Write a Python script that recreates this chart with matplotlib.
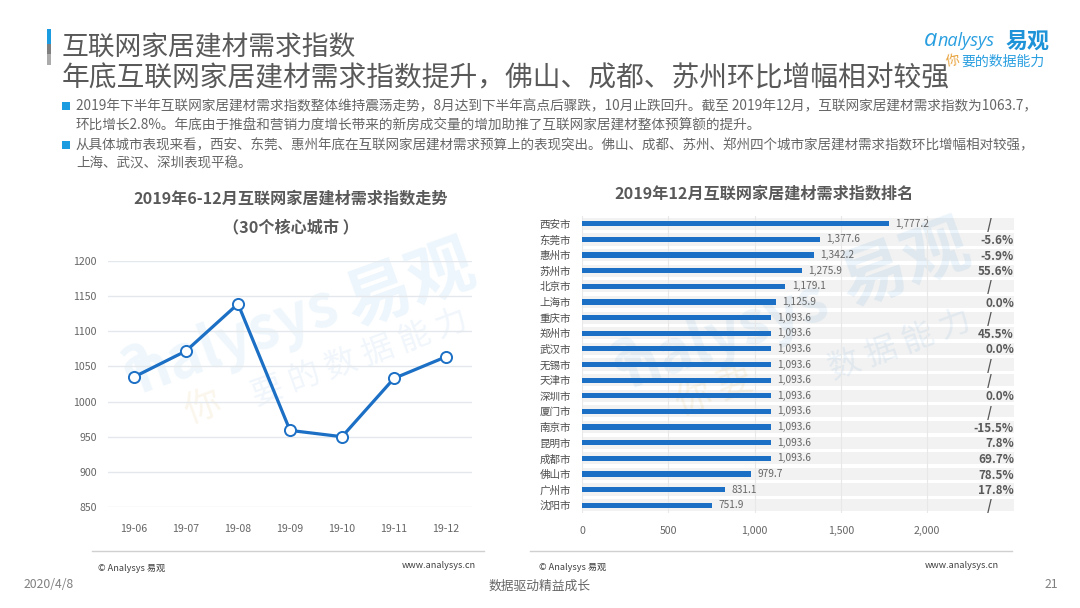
import matplotlib
matplotlib.use("Agg")
import matplotlib.pyplot as plt
from matplotlib.patches import Rectangle
from matplotlib.lines import Line2D

plt.rcParams['font.family'] = ['Noto Sans CJK SC', 'DejaVu Sans']

W, H = 1080, 608

months = ['19-06', '19-07', '19-08', '19-09', '19-10', '19-11', '19-12']
trend_values = [1035, 1072, 1139, 959, 950, 1033, 1063.7]
trend_ticks = [850, 900, 950, 1000, 1050, 1100, 1150, 1200]

cities = ['西安市', '东莞市', '惠州市', '苏州市', '北京市', '上海市', '重庆市', '郑州市', '武汉市', '无锡市',
          '天津市', '深圳市', '厦门市', '南京市', '昆明市', '成都市', '佛山市', '广州市', '沈阳市']
city_values = [1777.2, 1377.6, 1342.2, 1275.9, 1179.1, 1125.9, 1093.6, 1093.6, 1093.6, 1093.6,
               1093.6, 1093.6, 1093.6, 1093.6, 1093.6, 1093.6, 979.7, 831.1, 751.9]
mom_labels = ['/', '-5.6%', '-5.9%', '55.6%', '/', '0.0%', '/', '45.5%', '0.0%', '/',
              '/', '0.0%', '/', '-15.5%', '7.8%', '69.7%', '78.5%', '17.8%', '/']
rank_ticks = [0, 500, 1000, 1500, 2000]

title_lines = ['互联网家居建材需求指数', '年底互联网家居建材需求指数提升，佛山、成都、苏州环比增幅相对较强']
body_lines = [
    '2019年下半年互联网家居建材需求指数整体维持震荡走势，8月达到下半年高点后骤跌，10月止跌回升。截至 2019年12月，互联网家居建材需求指数为1063.7，',
    '环比增长2.8%。年底由于推盘和营销力度增长带来的新房成交量的增加助推了互联网家居建材整体预算额的提升。',
    '从具体城市表现来看，西安、东莞、惠州年底在互联网家居建材需求预算上的表现突出。佛山、成都、苏州、郑州四个城市家居建材需求指数环比增幅相对较强，',
    '上海、武汉、深圳表现平稳。',
]

BLUE = '#1B6FC4'
GRAY = '#595959'


def px(x, y):
    return x / W, 1 - y / H


def ftext(x, y, s, **kw):
    kw.setdefault('va', 'center')
    kw.setdefault('color', GRAY)
    fx, fy = px(x, y)
    return fig.text(fx, fy, s, **kw)


def frect(x0, y0, x1, y1, color):
    fig.add_artist(Rectangle((x0 / W, 1 - y1 / H), (x1 - x0) / W, (y1 - y0) / H,
                             transform=fig.transFigure, color=color, lw=0))


def fline(x0, x1, y, color='#D0D0D0', lw=1.0):
    fig.add_artist(Line2D([x0 / W, x1 / W], [1 - y / H, 1 - y / H],
                          transform=fig.transFigure, color=color, lw=lw))


def axes_px(x0, y0, x1, y1):
    a = fig.add_axes([x0 / W, 1 - y1 / H, (x1 - x0) / W, (y1 - y0) / H])
    a.patch.set_alpha(0)
    for s in a.spines.values():
        s.set_visible(False)
    return a


fig = plt.figure(figsize=(W / 100, H / 100), dpi=100, facecolor='white')

# watermarks
for (x, y, s, size, col, rot) in [
    (410, 285, '易观', 48, '#EDF6FC', 20),
    (235, 340, 'nalysys', 42, '#EFF7FC', 20),
    (135, 358, 'a', 40, '#EFF7FC', 20),
    (360, 358, '要 的 数 据 能 力', 23, '#F0F6FB', 20),
    (203, 408, '你', 26, '#FBF6EC', 20),
    (905, 265, '易观', 48, '#ECF5FB', 20),
    (725, 335, 'nalysys', 42, '#EEF6FB', 20),
    (625, 352, 'a', 40, '#EEF6FB', 20),
    (900, 345, '数 据 能 力', 23, '#EEF5FB', 20),
    (715, 392, '你 要', 26, '#FBF6EC', 20),
]:
    ftext(x, y, s, fontsize=size, color=col, rotation=rot, ha='center', zorder=-1,
          fontweight='bold' if size > 30 else 'normal')

# header
frect(47, 29, 51, 44, '#1B9BE0')
frect(47, 44, 51, 54, '#7F7F7F')
frect(47, 54, 51, 65, '#ABABAB')
ftext(62, 48, title_lines[0], fontsize=19.3)
ftext(62, 78, title_lines[1], fontsize=20)

for y, s, bullet, size in zip([106, 125, 145, 164], body_lines, [True, False, True, False],
                              [9.85, 9.85, 9.75, 9.75]):
    ftext(76, y, s, fontsize=size, color='#666666')
    if bullet:
        frect(62, y - 4, 70, y + 4, '#1B9BE0')

# logo
ftext(938, 41, 'nalysys', fontsize=13, color='#2A9FE0', family='Open Sans', style='italic')
ftext(924, 40, 'a', fontsize=17, color='#2A9FE0', family='Open Sans', style='italic')
ftext(1006, 41, '易观', fontsize=15.8, color='#1F93D8', fontweight='bold')
ftext(945, 61, '你', fontsize=10, color='#E8A33D', rotation=10)
ftext(961, 62, '要的数据能力', fontsize=10, color='#2A9FE0')

# left chart
ftext(291, 199, '2019年6-12月互联网家居建材需求指数走势', fontsize=11.6, ha='center', fontweight='bold', color='#595959')
ftext(291, 227, '（30个核心城市 ）', fontsize=11.6, ha='center', fontweight='bold', color='#595959')

ax = axes_px(108, 261, 472, 507)
ax.set_xlim(-0.5, 6.5)
ax.set_ylim(850, 1200)
ax.set_yticks(trend_ticks)
ax.set_xticks(range(len(months)))
ax.set_xticklabels(months)
ax.tick_params(length=0, labelsize=7.6, labelcolor='#666666')
ax.tick_params(axis='x', pad=12)
ax.tick_params(axis='y', pad=8)
ax.grid(axis='y', color='#E4E8EC', lw=1)
ax.set_axisbelow(True)
ax.plot(range(len(months)), trend_values, color=BLUE, lw=2.3, marker='o', ms=8,
        mfc='white', mec=BLUE, mew=1.4, clip_on=False)

# right chart
ftext(764, 194, '2019年12月互联网家居建材需求指数排名', fontsize=11.6, ha='center', fontweight='bold', color='#595959')

ax2 = axes_px(582, 216, 1014, 513)
ax2.set_xlim(0, 2504)
ax2.set_ylim(len(cities) - 0.5, -0.5)
for i in range(len(cities)):
    ax2.axhspan(i - 0.39, i + 0.39, color='black', alpha=0.05, lw=0, zorder=0)
ax2.barh(range(len(cities)), city_values, height=0.33, color=BLUE, zorder=3)
ax2.set_yticks(range(len(cities)))
ax2.set_yticklabels(cities)
ax2.set_xticks(rank_ticks)
ax2.set_xticklabels([f'{t:,}' for t in rank_ticks])
ax2.tick_params(length=0, labelsize=7.6, labelcolor='#666666')
ax2.tick_params(axis='y', labelcolor='#4D4D4D', pad=8)
ax2.tick_params(axis='x', pad=9)
ax2.grid(axis='x', color='#E8E8E8', lw=0.8)
for g in ax2.get_xgridlines():
    g.set_zorder(1)
for i, (v, lab) in enumerate(zip(city_values, mom_labels)):
    ax2.annotate(f'{v:,.1f}', (v, i), xytext=(4.5, 0), textcoords='offset points', va='center',
                 fontsize=7.3, color='#666666', zorder=4)
    ax2.annotate(lab, (1, i), xycoords=('axes fraction', 'data'), ha='right', va='center',
                 fontsize=9.5 if lab == '/' else 8.4, color='#595959', fontweight='bold', zorder=4,
                 xytext=(-16 if lab == '/' else 0, -0.8), textcoords='offset points')

# footers
fline(92, 484, 551)
fline(530, 1012, 551)
for x, y, ha, s in [(98, 568, 'left', '© Analysys 易观'), (476, 566, 'right', 'www.analysys.cn'),
                    (539, 567, 'left', '© Analysys 易观'), (999, 566, 'right', 'www.analysys.cn')]:
    ftext(x, y, s, fontsize=6.6, ha=ha, color='#404040')
ftext(24, 585, '2020/4/8', fontsize=8.8, color='#808080')
ftext(540, 586, '数据驱动精益成长', fontsize=9.2, ha='center', color='#666666')
ftext(1058, 585, '21', fontsize=8.8, ha='right', color='#808080')

fig.savefig('out.png', dpi=100)
